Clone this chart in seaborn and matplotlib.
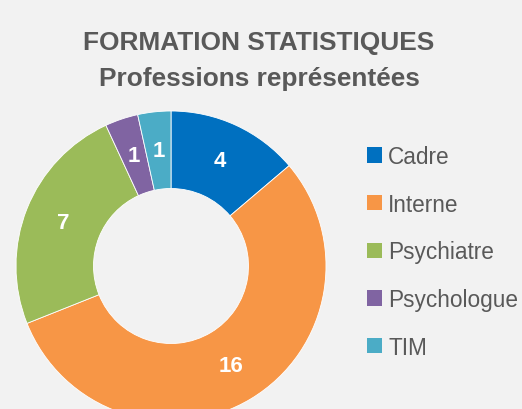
import matplotlib
matplotlib.use("Agg")
import numpy as np
import matplotlib.pyplot as plt
import seaborn as sns
from matplotlib.patches import Patch

# Data
professions = ["Cadre", "Interne", "Psychiatre", "Psychologue", "TIM"]
effectifs = [4, 16, 7, 1, 1]
couleurs = ["#0070C0", "#F79646", "#9BBB59", "#8064A2", "#4BACC6"]

sns.set_theme(style="white", rc={"figure.facecolor": "#F2F2F2",
                                 "axes.facecolor": "#F2F2F2"})
plt.rcParams["font.family"] = ["Liberation Sans", "DejaVu Sans"]
palette = sns.color_palette(couleurs)

W, H = 522, 410
fig = plt.figure(figsize=(W / 100, H / 100), dpi=100)

# donut: centre (171, 267) px, rayon 155 px
cx, cy, r = 171, 267, 155
ax = fig.add_axes([(cx - r) / W, (H - cy - r) / H, 2 * r / W, 2 * r / H])
wedges, _ = ax.pie(
    effectifs,
    colors=palette,
    startangle=90,
    counterclock=False,
    radius=1,
    wedgeprops=dict(width=0.5, edgecolor="white", linewidth=0.6),
)
ax.set_xlim(-1, 1)
ax.set_ylim(-1, 1)
ax.set_aspect("equal")
ax.axis("off")

# étiquettes de valeurs
total = sum(effectifs)
angle = 90.0
for v in effectifs:
    span = v / total * 360
    mid = np.deg2rad(angle - span / 2)
    ax.text(0.75 * np.cos(mid), 0.75 * np.sin(mid), str(v),
            ha="center", va="center", color="white",
            fontsize=16, fontweight="bold")
    angle -= span

# titre
fig.text(259 / W, 1 - 43 / H, "FORMATION STATISTIQUES", ha="center",
         va="center", fontsize=18.9, fontweight="bold", color="#595959")
fig.text(259 / W, 1 - 79 / H, "Professions représentées", ha="center",
         va="center", fontsize=18.9, fontweight="bold", color="#595959")

# légende
handles = [Patch(facecolor=c, edgecolor="none") for c in palette]
leg = fig.legend(handles, professions, loc="upper left",
                 bbox_to_anchor=(367 / W, 1 - 146 / H), frameon=False,
                 fontsize=16.3, labelcolor="#595959",
                 borderpad=0, borderaxespad=0,
                 handlelength=0.66, handleheight=0.66, handletextpad=0.27,
                 labelspacing=1.09)

fig.savefig("out.png", dpi=100, facecolor=fig.get_facecolor())
